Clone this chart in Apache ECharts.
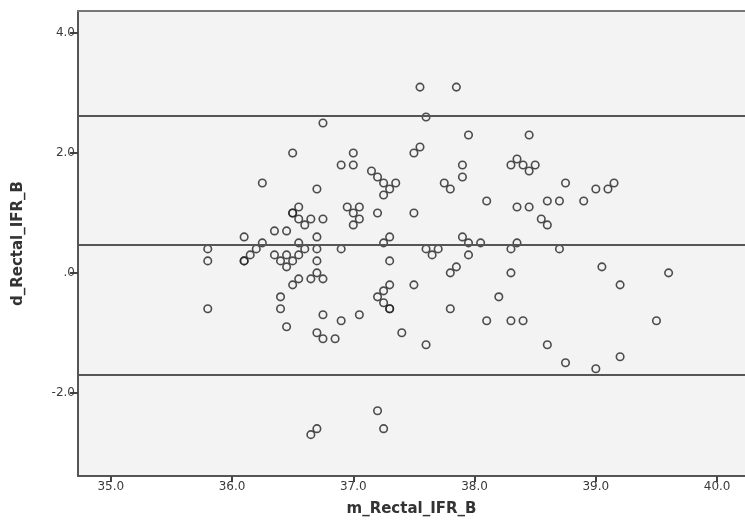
<!DOCTYPE html>
<html>
<head>
<meta charset="utf-8">
<script src="https://cdn.jsdelivr.net/npm/echarts@6/dist/echarts.min.js"></script>
<style>
  html, body { margin: 0; padding: 0; background: #fff; }
  #chart { width: 745px; height: 524px; }
</style>
</head>
<body>
<div id="chart"></div>
<script>
// mean of the two readings (x) and their difference (y)
const meanTemp = [
  36.75, 36.50, 37.00, 36.90, 37.00, 37.15, 37.20, 36.25, 36.70, 36.55,
  36.50, 36.50, 36.55, 36.60, 36.65, 36.75, 36.95, 37.05, 37.00, 37.05,
  37.00, 37.20, 36.10, 36.35, 36.45, 36.70, 36.25, 36.55, 35.80, 36.20,
  36.60, 36.70, 36.90, 36.15, 36.35, 36.45, 36.55, 35.80, 36.10, 36.10,
  36.40, 36.50, 36.70, 36.45, 36.70, 36.55, 36.65, 36.75, 36.50, 36.40,
  35.80, 36.40, 36.75, 37.05, 36.90, 36.45, 36.70, 36.75, 36.85, 37.20,
  37.25, 36.70, 36.65, 37.55, 37.85, 37.60, 37.95, 38.45, 37.55, 37.50,
  38.35, 38.30, 38.40, 38.45, 38.50, 37.90, 37.90, 37.25, 37.35, 37.30,
  37.25, 37.75, 37.80, 38.75, 38.10, 38.35, 38.45, 38.60, 38.70, 37.50,
  38.55, 38.60, 37.30, 37.25, 37.90, 37.95, 38.05, 38.35, 38.30, 38.70,
  37.60, 37.70, 37.65, 37.95, 37.30, 37.85, 37.80, 38.30, 37.30, 37.25,
  37.20, 37.25, 37.30, 37.30, 37.50, 38.20, 37.80, 38.10, 38.30, 38.40,
  37.40, 37.60, 38.60, 38.75, 39.00, 39.10, 39.15, 38.90, 39.05, 39.60,
  39.20, 39.50, 39.20, 39.00
];
const diffTemp = [
  2.5, 2.0, 2.0, 1.8, 1.8, 1.7, 1.6, 1.5, 1.4, 1.1,
  1.0, 1.0, 0.9, 0.8, 0.9, 0.9, 1.1, 1.1, 1.0, 0.9,
  0.8, 1.0, 0.6, 0.7, 0.7, 0.6, 0.5, 0.5, 0.4, 0.4,
  0.4, 0.4, 0.4, 0.3, 0.3, 0.3, 0.3, 0.2, 0.2, 0.2,
  0.2, 0.2, 0.2, 0.1, 0.0, -0.1, -0.1, -0.1, -0.2, -0.4,
  -0.6, -0.6, -0.7, -0.7, -0.8, -0.9, -1.0, -1.1, -1.1, -2.3,
  -2.6, -2.6, -2.7, 3.1, 3.1, 2.6, 2.3, 2.3, 2.1, 2.0,
  1.9, 1.8, 1.8, 1.7, 1.8, 1.8, 1.6, 1.5, 1.5, 1.4,
  1.3, 1.5, 1.4, 1.5, 1.2, 1.1, 1.1, 1.2, 1.2, 1.0,
  0.9, 0.8, 0.6, 0.5, 0.6, 0.5, 0.5, 0.5, 0.4, 0.4,
  0.4, 0.4, 0.3, 0.3, 0.2, 0.1, 0.0, 0.0, -0.2, -0.3,
  -0.4, -0.5, -0.6, -0.6, -0.2, -0.4, -0.6, -0.8, -0.8, -0.8,
  -1.0, -1.2, -1.2, -1.5, 1.4, 1.4, 1.5, 1.2, 0.1, 0.0,
  -0.2, -0.8, -1.4, -1.6
];
// mean difference and limits of agreement
const refLines = [2.635, 0.473, -1.70];
const xTicks = [35, 36, 37, 38, 39, 40];
const yTicks = [-2, 0, 2, 4];

const fmt = v => (v === 0 ? '.0' : v.toFixed(1));
const font = 'DejaVu Sans';
const xMin = 34.73, xMax = 40.23;

const chart = echarts.init(document.getElementById('chart'));
chart.setOption({
  animation: false,
  grid: {
    left: 78, top: 11, right: 0, bottom: 48,
    show: true,
    backgroundColor: '#f3f3f3',
    borderWidth: 0
  },
  xAxis: [{
    type: 'value',
    min: xMin, max: xMax,
    name: 'm_Rectal_IFR_B',
    nameLocation: 'middle',
    nameGap: 26,
    nameTextStyle: { fontFamily: font, fontSize: 15, fontWeight: 'bold', color: '#333' },
    axisLine: { onZero: false, lineStyle: { color: '#555', width: 2 } },
    axisTick: { customValues: xTicks, length: 6, lineStyle: { color: '#444', width: 2 } },
    axisLabel: { customValues: xTicks, formatter: fmt, fontFamily: font, fontSize: 12, color: '#3a3a3a', margin: 5 },
    splitLine: { show: false }
  }, {
    // top frame line only (the right side of the frame is cut off)
    type: 'value',
    position: 'top',
    min: xMin, max: xMax,
    axisLine: { onZero: false, lineStyle: { color: '#777', width: 2 } },
    axisTick: { show: false },
    axisLabel: { show: false },
    splitLine: { show: false }
  }],
  yAxis: {
    type: 'value',
    min: -3.39, max: 4.37,
    name: 'd_Rectal_IFR_B',
    nameLocation: 'middle',
    nameGap: 52,
    nameTextStyle: { fontFamily: font, fontSize: 15, fontWeight: 'bold', color: '#333' },
    axisLine: { onZero: false, lineStyle: { color: '#555', width: 2 } },
    axisTick: { customValues: yTicks, length: 8, lineStyle: { color: '#444', width: 2 } },
    axisLabel: { customValues: yTicks, formatter: fmt, fontFamily: font, fontSize: 12, color: '#3a3a3a', margin: 3 },
    splitLine: { show: false }
  },
  series: [{
    type: 'scatter',
    data: meanTemp.map((m, i) => [m, diffTemp[i]]),
    symbol: 'circle',
    symbolSize: 7.5,
    itemStyle: { color: 'rgba(0,0,0,0)', borderColor: '#222', borderWidth: 1.6 },
    markLine: {
      silent: true,
      symbol: 'none',
      label: { show: false },
      lineStyle: { color: '#555', width: 1.8, type: 'solid' },
      data: refLines.map(v => ({ yAxis: v }))
    }
  }]
});
</script>
</body>
</html>
